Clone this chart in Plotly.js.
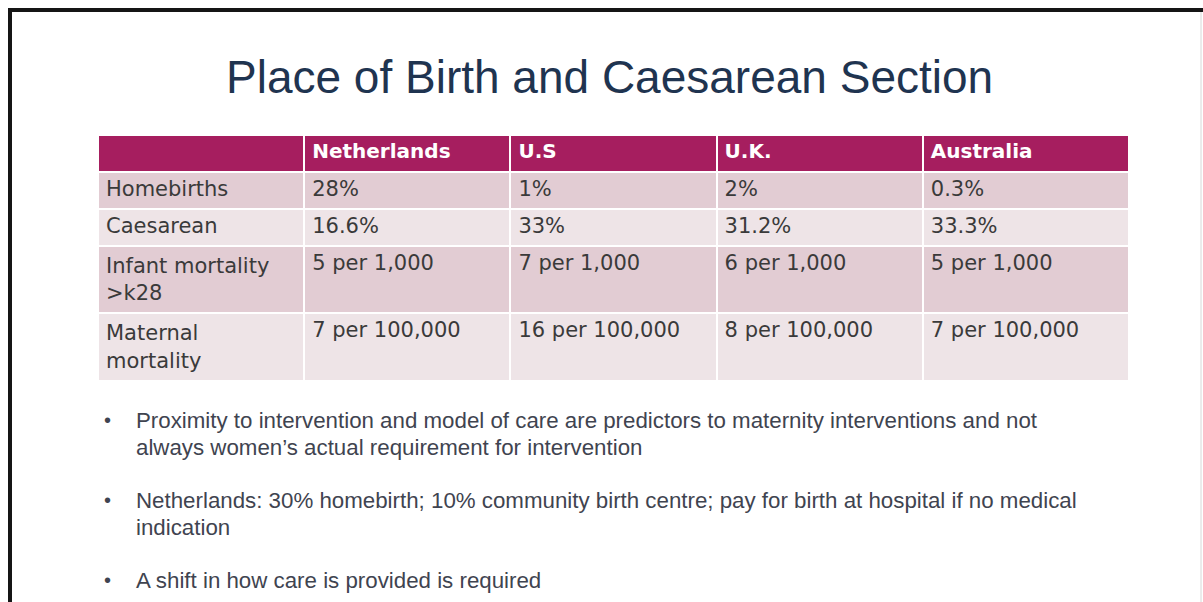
<!DOCTYPE html>
<html>
<head>
<meta charset="utf-8">
<script src="https://cdn.plot.ly/plotly-3.0.1.min.js"></script>
<style>html,body{margin:0;padding:0;background:#fff;}#chart{width:1203px;height:602px;}</style>
</head>
<body>
<div id="chart"></div>
<script>
var titleText = "Place of Birth and Caesarean Section";
var countries = ["Netherlands", "U.S", "U.K.", "Australia"];
var measures = ["Homebirths", "Caesarean", "Infant mortality<br>>k28", "Maternal<br>mortality"];
var netherlands = ["28%", "16.6%", "5 per 1,000", "7 per 100,000"];
var us = ["1%", "33%", "7 per 1,000", "16 per 100,000"];
var uk = ["2%", "31.2%", "6 per 1,000", "8 per 100,000"];
var australia = ["0.3%", "33.3%", "5 per 1,000", "7 per 100,000"];
var bulletLines = [
  ["Proximity to intervention and model of care are predictors to maternity interventions and not",
   "always women\u2019s actual requirement for intervention"],
  ["Netherlands: 30% homebirth; 10% community birth centre; pay for birth at hospital if no medical",
   "indication"],
  ["A shift in how care is provided is required"]
];

var W = 1203, H = 602;
var rowColors = ["#E2CCD3", "#EEE4E7", "#E2CCD3", "#EEE4E7"];
var tbl = {
  type: "table",
  columnwidth: [1, 1, 1, 1, 1],
  domain: {x: [98 / W, 1129 / W], y: [0.30, 1 - 135 / H]},
  header: {
    values: [""].concat(countries),
    align: "left",
    height: 37,
    fill: {color: "#A61E5F"},
    line: {color: "#ffffff", width: 2},
    font: {family: "DejaVu Sans", size: 20, color: "#ffffff", weight: "bold"}
  },
  cells: {
    values: [measures, netherlands, us, uk, australia],
    align: "left",
    height: 37,
    fill: {color: [rowColors, rowColors, rowColors, rowColors, rowColors]},
    line: {color: "#ffffff", width: 2},
    font: {family: "DejaVu Sans", size: 21, color: "#3a3a3a"}
  }
};

var annotations = [{
  text: titleText, xref: "paper", yref: "paper", x: 609 / W, y: 1 - 77 / H,
  xanchor: "center", yanchor: "middle", showarrow: false,
  font: {family: "Liberation Sans", size: 46, color: "#1F3450"}
}];
var bulletY = [420, 500, 580];
bulletLines.forEach(function (lines, i) {
  annotations.push({
    text: "\u2022", xref: "paper", yref: "paper", x: 107 / W, y: 1 - bulletY[i] / H,
    xanchor: "center", yanchor: "middle", showarrow: false,
    font: {family: "Liberation Sans", size: 20, color: "#3f4450"}
  });
  lines.forEach(function (ln, j) {
    annotations.push({
      text: ln, xref: "paper", yref: "paper", x: 134 / W, y: 1 - (bulletY[i] + j * 27) / H,
      xanchor: "left", yanchor: "middle", showarrow: false,
      font: {family: "Liberation Sans", size: 22.3, color: "#3f4450"}
    });
  });
});

var shapes = [
  {type: "line", xref: "paper", yref: "paper", x0: 8 / W, x1: 1, y0: 1 - 10 / H, y1: 1 - 10 / H, line: {color: "#151515", width: 4}},
  {type: "line", xref: "paper", yref: "paper", x0: 10 / W, x1: 10 / W, y0: 1 - 8 / H, y1: 0, line: {color: "#151515", width: 4}},
  {type: "line", xref: "paper", yref: "paper", x0: 1201 / W, x1: 1201 / W, y0: 1 - 12 / H, y1: 0, line: {color: "#d8d8d8", width: 1}}
];

Plotly.newPlot("chart", [tbl], {
  width: W, height: H,
  margin: {l: 0, r: 0, t: 0, b: 0},
  paper_bgcolor: "#ffffff",
  annotations: annotations,
  shapes: shapes,
  showlegend: false
}, {displayModeBar: false, staticPlot: true});
</script>
</body>
</html>
